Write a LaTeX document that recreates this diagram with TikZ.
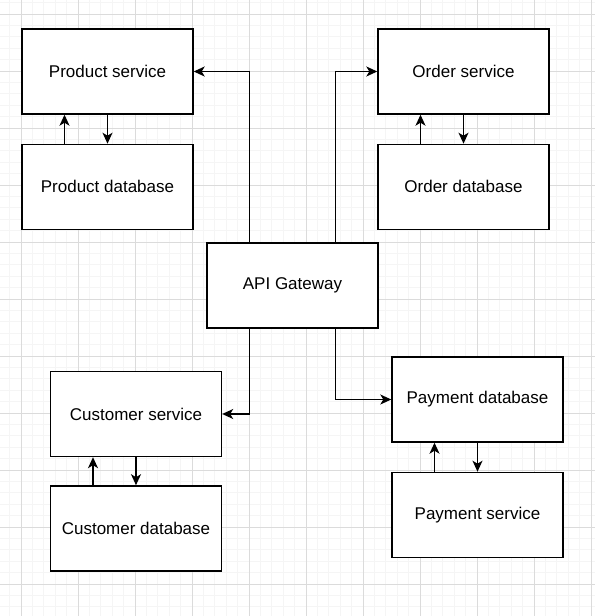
\documentclass[tikz,border=0pt]{standalone}
\usepackage{fontspec}
\setmainfont{Liberation Sans}
\usetikzlibrary{positioning,calc,arrows.meta}

\tikzset{
  box/.style={draw, line width=1.4pt, fill=white, minimum width=171pt, minimum height=85pt, inner sep=0pt, font=\fontsize{17}{20}\selectfont},
  link/.style={line width=1.4pt, -{Stealth[length=11pt,width=10pt,inset=3pt]}},
  majorgrid/.style={draw=black!14, line width=1pt},
  minorgrid/.style={draw=black!4, line width=1pt},
}

\begin{document}
\begin{tikzpicture}[x=1pt, y=-1pt, node distance=29pt]
  \useasboundingbox (0,0) rectangle (595,616);
  % background grid
  \begin{scope}
    \clip (0,0) rectangle (595,616);
    \foreach \i in {-1,...,52} {
      \draw[minorgrid] (21+11.4*\i,0) -- (21+11.4*\i,616);
      \draw[minorgrid] (0,14+11.4*\i) -- (595,14+11.4*\i);
    }
    \foreach \i in {0,...,10} {
      \draw[majorgrid] (21+57*\i,0) -- (21+57*\i,616);
      \draw[majorgrid] (0,14+57*\i) -- (595,14+57*\i);
    }
  \end{scope}

  % services and databases
  \node[box] (gateway) at (292.5,285.5) {API Gateway};
  \node[box] (prodsvc) at (107.5,71.5) {Product service};
  \node[box, below=of prodsvc] (proddb) {Product database};
  \node[box] (ordsvc) at (463.5,71.5) {Order service};
  \node[box, below=of ordsvc] (orddb) {Order database};
  \node[box] (custsvc) at (136,414) {Customer service};
  \node[box, below=28pt of custsvc] (custdb) {Customer database};
  \node[box] (paydb) at (477.5,399.5) {Payment database};
  \node[box, below=of paydb] (paysvc) {Payment service};

  % gateway routes
  \draw[link] ([xshift=-43pt]gateway.north) |- (prodsvc.east);
  \draw[link] ([xshift=43pt]gateway.north) |- (ordsvc.west);
  \draw[link] ([xshift=-43pt]gateway.south) |- (custsvc.east);
  \draw[link] ([xshift=43pt]gateway.south) |- (paydb.west);

  % service <-> database
  \draw[link] ([xshift=-43pt]proddb.north) -- ([xshift=-43pt]prodsvc.south);
  \draw[link] (prodsvc) -- (proddb);
  \draw[link] ([xshift=-43pt]orddb.north) -- ([xshift=-43pt]ordsvc.south);
  \draw[link] (ordsvc) -- (orddb);
  \draw[link] ([xshift=-43pt]custdb.north) -- ([xshift=-43pt]custsvc.south);
  \draw[link] (custsvc) -- (custdb);
  \draw[link] ([xshift=-43pt]paysvc.north) -- ([xshift=-43pt]paydb.south);
  \draw[link] (paydb) -- (paysvc);
\end{tikzpicture}
\end{document}
